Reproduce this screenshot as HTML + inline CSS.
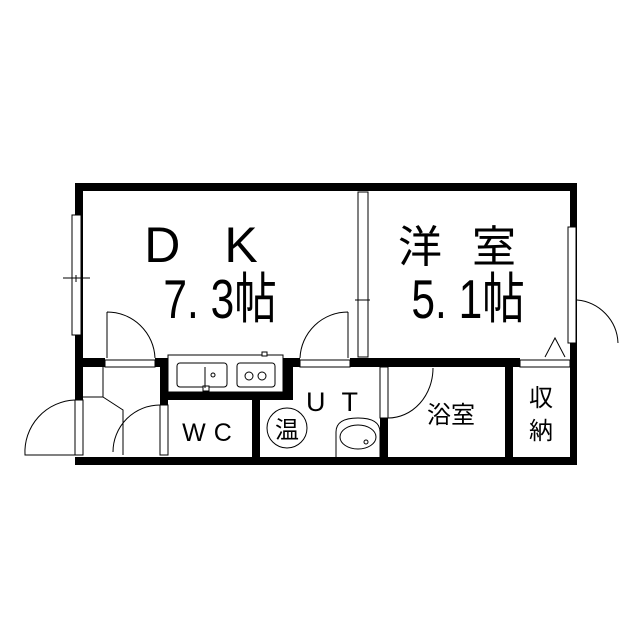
<!DOCTYPE html><html><head><style>body{margin:0;background:#fff}svg{display:block}text{font-family:"Liberation Sans","Noto Sans CJK JP",sans-serif;fill:#000}</style></head><body>
<svg width="640" height="640" viewBox="0 0 640 640" xmlns="http://www.w3.org/2000/svg">
<g fill="#000">
<rect x="75" y="183" width="502" height="8"/>
<rect x="75" y="457" width="502" height="8"/>
<rect x="75" y="183" width="8" height="217"/>
<rect x="570" y="183" width="7" height="282"/>
<rect x="75" y="358" width="30" height="9"/>
<rect x="155" y="358" width="145" height="9"/>
<rect x="350" y="358" width="170" height="9"/>
<rect x="160" y="358" width="8" height="47"/>
<rect x="160" y="392" width="133" height="8"/>
<rect x="283" y="358" width="10" height="42"/>
<rect x="252" y="392" width="8" height="70"/>
<rect x="380" y="418" width="8" height="45"/>
<rect x="505" y="365" width="8" height="95"/>
</g>
<g fill="#fff" stroke="#000" stroke-width="1">
<rect x="72" y="215" width="9" height="120"/>
<rect x="358" y="192" width="10" height="165"/>
<rect x="568" y="227" width="8" height="116"/>
<rect x="105" y="360" width="50" height="7"/>
<rect x="300" y="360" width="50" height="7"/>
<rect x="520" y="360" width="50" height="7"/>
<rect x="75" y="400" width="8" height="55"/>
<rect x="160" y="405" width="8" height="50"/>
<rect x="380" y="367" width="8" height="51"/>
<rect x="168" y="355" width="115" height="37"/>
<rect x="177" y="363" width="50" height="24" rx="3"/>
<rect x="237" y="363" width="38" height="24" rx="3"/>
<rect x="262" y="352" width="5" height="4"/>
<rect x="203" y="386" width="6" height="5"/>
</g>
<g fill="none" stroke="#000" stroke-width="1">
<line x1="63" y1="278" x2="90" y2="278"/><line x1="76" y1="275" x2="76" y2="282"/>
<line x1="355" y1="300" x2="370" y2="300"/>
<line x1="205" y1="367" x2="205" y2="388"/>
<circle cx="213" cy="375" r="2"/>
<circle cx="249" cy="376" r="4"/><circle cx="262" cy="376" r="4"/>
<path d="M107 312 A48 48 0 0 1 155 358 M107 312 V358"/>
<path d="M348 312 A48 48 0 0 0 300 358 M348 312 V358"/>
<path d="M75 400 A52 52 0 0 0 25 455 H75"/>
<path d="M160 405 A47 47 0 0 0 113 452"/>
<path d="M433 368 A45 50 0 0 1 388 418"/>
<path d="M577 300 A45 45 0 0 1 618 343"/>
<path d="M103 367 V397 H83 M103 397 L123 410 V455"/>
<path d="M545 357 L555 338 L565 357"/>
<circle cx="287" cy="428" r="20"/>
<path d="M336 460 V432 Q336 418 358 418 Q380 418 380 432 V460"/>
<ellipse cx="358" cy="437" rx="18" ry="12"/>
<circle cx="366" cy="442" r="2"/>
</g>
<text x="223" y="262" font-size="50" text-anchor="middle" letter-spacing="44">DK</text>
<text transform="translate(220,318) scale(0.85,1.1)" font-size="50" text-anchor="middle">7. 3帖</text>
<text x="472" y="262" font-size="44" text-anchor="middle" letter-spacing="30">洋室</text>
<text transform="translate(468,318) scale(0.85,1.1)" font-size="50" text-anchor="middle">5. 1帖</text>
<text x="211" y="441" font-size="25" text-anchor="middle" letter-spacing="8">WC</text>
<text x="287" y="438" font-size="24" text-anchor="middle">温</text>
<text x="340" y="411" font-size="27" text-anchor="middle" letter-spacing="16">UT</text>
<text x="451" y="423" font-size="24" text-anchor="middle">浴室</text>
<text x="541" y="406" font-size="24" text-anchor="middle">収</text>
<text x="541" y="439" font-size="24" text-anchor="middle">納</text>
</svg></body></html>
